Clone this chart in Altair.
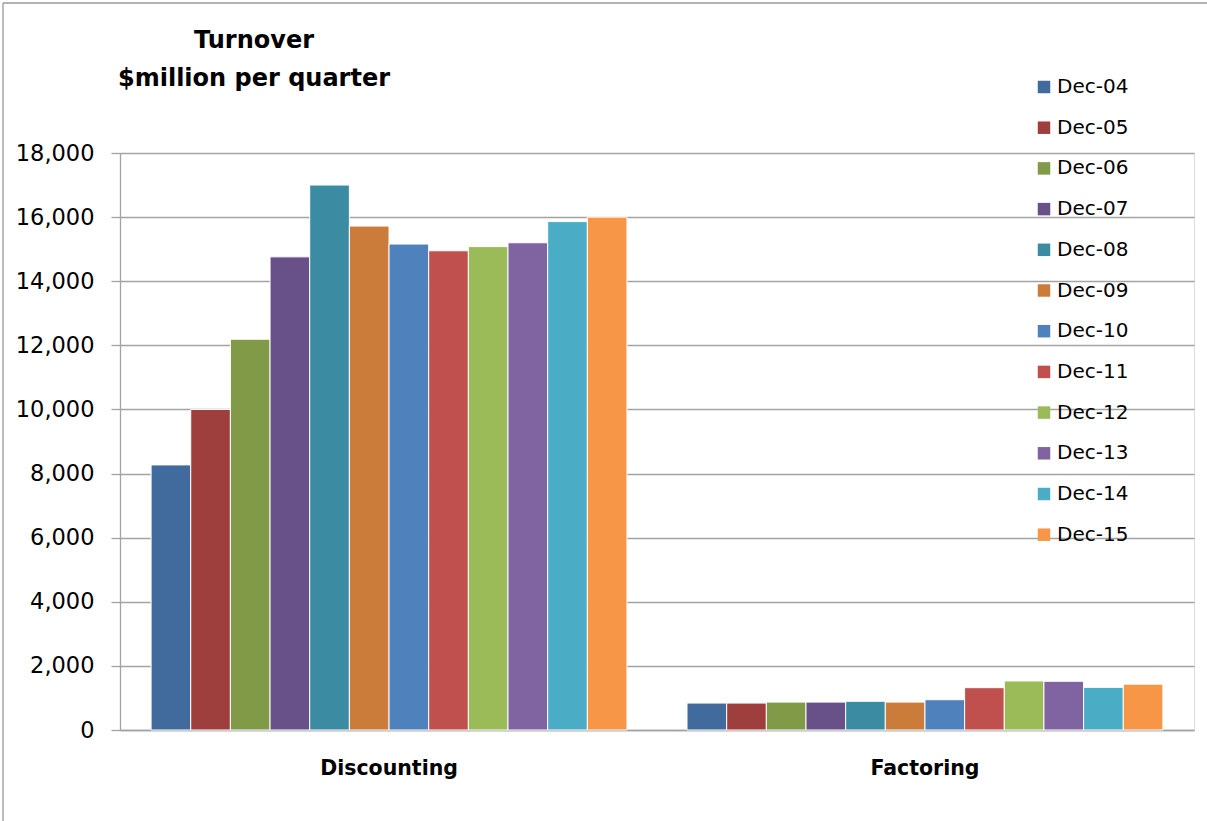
import altair as alt
import pandas as pd

categories = ["Discounting", "Factoring"]
periods = ["Dec-04", "Dec-05", "Dec-06", "Dec-07", "Dec-08", "Dec-09",
           "Dec-10", "Dec-11", "Dec-12", "Dec-13", "Dec-14", "Dec-15"]
discounting = [8270, 10000, 12190, 14760, 17000, 15720, 15160, 14950, 15080, 15200, 15860, 16000]
factoring = [840, 840, 870, 870, 895, 870, 945, 1320, 1530, 1520, 1330, 1430]
colors = ["#416B9C", "#9E3F3E", "#809A48", "#685088", "#3B8CA3", "#CC7C3A",
          "#4F81BD", "#C0504D", "#9BBB59", "#8064A2", "#4BACC6", "#F79646"]
y_ticks = [0, 2000, 4000, 6000, 8000, 10000, 12000, 14000, 16000, 18000]
title_lines = ["Turnover", "$million per quarter"]

rows = []
for p, d, f in zip(periods, discounting, factoring):
    rows.append({"category": "Discounting", "period": p, "value": d})
    rows.append({"category": "Factoring", "period": p, "value": f})
df = pd.DataFrame(rows)

FONT = "DejaVu Sans"
GRID = "#a3a3a3"

bars = alt.Chart(df).mark_bar(stroke="white", strokeWidth=1).encode(
    x=alt.X("category:N", sort=categories,
            scale=alt.Scale(paddingInner=0.112, paddingOuter=0.058),
            axis=alt.Axis(title=None, labelAngle=0, labelFont=FONT, labelFontWeight="bold",
                          labelFontSize=20.5, labelColor="black", ticks=False,
                          domainColor=GRID, domainWidth=1.5, labelPadding=28)),
    xOffset=alt.XOffset("period:N", sort=periods,
                        scale=alt.Scale(paddingInner=0, paddingOuter=0)),
    y=alt.Y("value:Q", scale=alt.Scale(domain=[0, 18000]),
            axis=alt.Axis(title=None, values=y_ticks, format=",.0f", labelFont=FONT,
                          labelFontSize=22.5, labelColor="black", tickSize=9,
                          tickColor=GRID, tickWidth=1.3, domainColor=GRID, domainWidth=1.3,
                          gridColor=GRID, gridWidth=1.3, labelPadding=17)),
    color=alt.Color("period:N", sort=periods,
                    scale=alt.Scale(domain=periods, range=colors),
                    legend=alt.Legend(title=None, orient="none", legendX=914, legendY=-76,
                                      symbolType="square", symbolSize=156,
                                      symbolStrokeWidth=0, labelFont=FONT,
                                      labelFontSize=20, labelColor="black",
                                      labelOffset=3, rowPadding=20.7, padding=0)),
)

one = pd.DataFrame({"a": [0]})
left_border = alt.Chart(one).mark_rule(color="#999999", strokeWidth=1.3).encode(
    x=alt.value(-117), y=alt.value(-150), y2=alt.value(700))
top_border = alt.Chart(one).mark_rule(color="#999999", strokeWidth=1.3).encode(
    x=alt.value(-117), x2=alt.value(1100), y=alt.value(-150))

title1 = alt.Chart(pd.DataFrame({"t": [title_lines[0]]})).mark_text(
    font=FONT, fontSize=24, fontWeight="bold", color="black",
    align="center", baseline="alphabetic").encode(
    text="t:N", x=alt.value(134), y=alt.value(-105))
title2 = alt.Chart(pd.DataFrame({"t": [title_lines[1]]})).mark_text(
    font=FONT, fontSize=24, fontWeight="bold", color="black",
    align="center", baseline="alphabetic").encode(
    text="t:N", x=alt.value(134), y=alt.value(-67))

chart = alt.layer(bars, left_border, top_border, title1, title2).properties(
    width=1074, height=577,
    autosize=alt.AutoSizeParams(type="none"),
    padding={"left": 120, "top": 153, "right": 13, "bottom": 91},
).configure_view(stroke=None).configure(background="white")

chart.save("out.html", embed_options={"renderer": "svg", "actions": False})
